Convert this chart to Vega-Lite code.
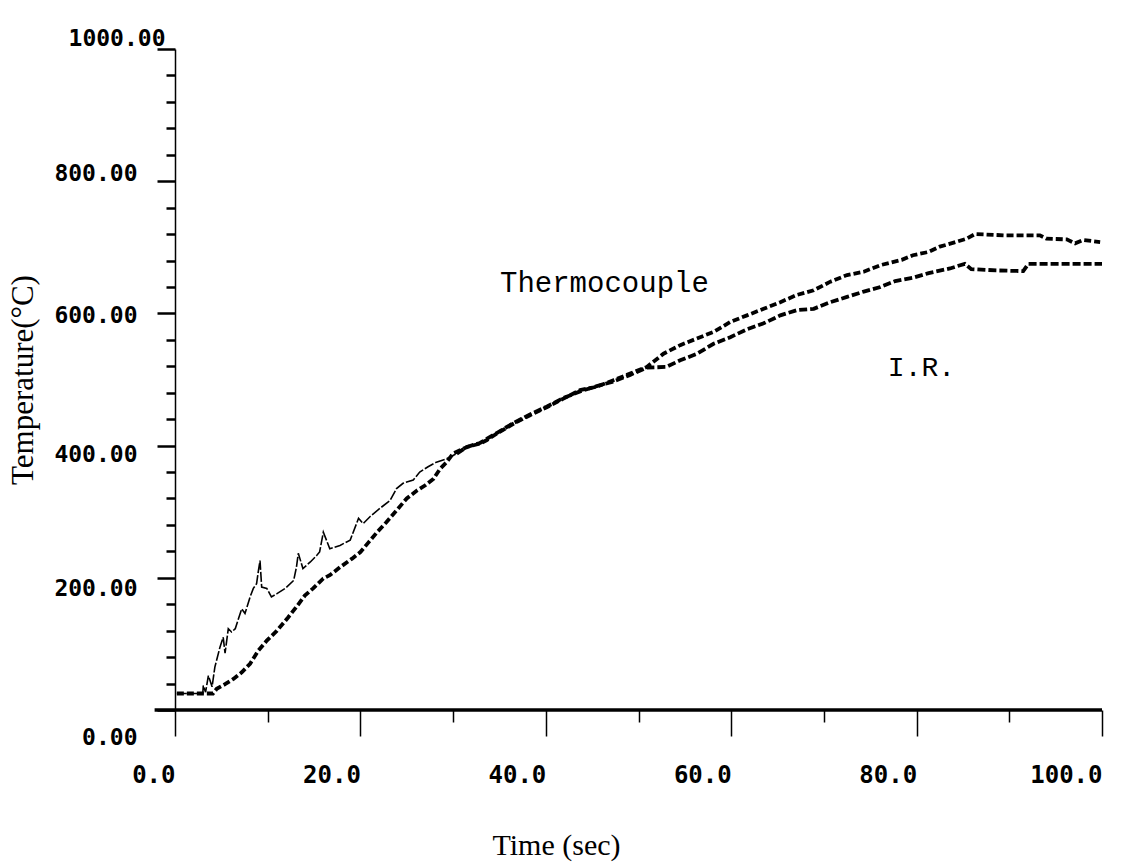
{
  "$schema": "https://vega.github.io/schema/vega-lite/v6.json",
  "width": 927,
  "height": 661,
  "autosize": {"type": "none"},
  "padding": {"left": 175, "top": 49, "right": 30, "bottom": 152},
  "background": "white",
  "config": {"view": {"stroke": null}},
  "datasets": {
    "tc": [
      {"t":0.2,"temp":25},{"t":4.1,"temp":25},{"t":4.5,"temp":32},{"t":5.4,"temp":39},{"t":6.3,"temp":47},{"t":7.2,"temp":57},{"t":8.1,"temp":70},{"t":9.0,"temp":90},{"t":9.9,"temp":105},{"t":11.0,"temp":120},{"t":12.2,"temp":140},{"t":13.1,"temp":156},{"t":14.0,"temp":173},{"t":14.9,"temp":184},{"t":16.0,"temp":199},{"t":16.7,"temp":204},{"t":17.8,"temp":216},{"t":19.1,"temp":229},{"t":20.0,"temp":239},{"t":20.9,"temp":254},{"t":21.8,"temp":269},{"t":22.8,"temp":284},{"t":23.9,"temp":302},{"t":25.0,"temp":320},{"t":26.1,"temp":332},{"t":27.0,"temp":340},{"t":27.9,"temp":350},{"t":28.6,"temp":365},{"t":29.3,"temp":375},{"t":30.0,"temp":388},{"t":31.5,"temp":398},{"t":32.9,"temp":403},{"t":33.6,"temp":408},{"t":34.7,"temp":418},{"t":36.5,"temp":433},{"t":38.3,"temp":446},{"t":40.1,"temp":458},{"t":41.9,"temp":471},{"t":43.7,"temp":484},{"t":45.5,"temp":489},{"t":47.3,"temp":499},{"t":49.1,"temp":509},{"t":50.9,"temp":519},{"t":52.7,"temp":539},{"t":54.5,"temp":552},{"t":56.3,"temp":562},{"t":58.1,"temp":572},{"t":59.9,"temp":587},{"t":61.7,"temp":597},{"t":63.5,"temp":607},{"t":65.3,"temp":617},{"t":67.1,"temp":628},{"t":68.9,"temp":635},{"t":70.7,"temp":648},{"t":72.5,"temp":658},{"t":74.3,"temp":663},{"t":76.1,"temp":673},{"t":78.4,"temp":681},{"t":79.6,"temp":688},{"t":81.3,"temp":693},{"t":82.5,"temp":701},{"t":84.0,"temp":707},{"t":85.4,"temp":713},{"t":86.3,"temp":720},{"t":89.7,"temp":718},{"t":93.3,"temp":718},{"t":94.0,"temp":713},{"t":96.2,"temp":712},{"t":97.1,"temp":706},{"t":98.0,"temp":711},{"t":99.8,"temp":708}
    ],
    "ir": [
      {"t":0.2,"temp":25},{"t":3.0,"temp":25},{"t":3.05,"temp":37},{"t":3.3,"temp":27},{"t":3.6,"temp":52},{"t":4.0,"temp":35},{"t":4.3,"temp":65},{"t":4.85,"temp":95},{"t":5.2,"temp":110},{"t":5.4,"temp":86},{"t":5.75,"temp":123},{"t":6.1,"temp":118},{"t":6.5,"temp":123},{"t":6.8,"temp":136},{"t":7.2,"temp":153},{"t":7.55,"temp":146},{"t":8.1,"temp":171},{"t":8.45,"temp":184},{"t":8.8,"temp":191},{"t":9.0,"temp":211},{"t":9.17,"temp":226},{"t":9.35,"temp":186},{"t":9.9,"temp":184},{"t":10.4,"temp":171},{"t":11.0,"temp":176},{"t":11.9,"temp":184},{"t":12.8,"temp":196},{"t":13.1,"temp":216},{"t":13.3,"temp":237},{"t":13.8,"temp":214},{"t":14.6,"temp":224},{"t":15.3,"temp":234},{"t":15.6,"temp":239},{"t":16.0,"temp":269},{"t":16.7,"temp":244},{"t":17.8,"temp":249},{"t":18.9,"temp":257},{"t":19.8,"temp":290},{"t":20.3,"temp":282},{"t":21.0,"temp":292},{"t":22.1,"temp":305},{"t":23.2,"temp":317},{"t":23.9,"temp":335},{"t":24.6,"temp":343},{"t":25.7,"temp":348},{"t":26.4,"temp":360},{"t":27.3,"temp":368},{"t":28.2,"temp":375},{"t":29.3,"temp":380},{"t":30.4,"temp":388},{"t":31.5,"temp":398},{"t":32.9,"temp":404},{"t":34.7,"temp":419},{"t":36.5,"temp":434},{"t":38.3,"temp":447},{"t":40.1,"temp":459},{"t":41.9,"temp":472},{"t":43.7,"temp":482},{"t":45.5,"temp":490},{"t":47.3,"temp":497},{"t":49.1,"temp":507},{"t":50.9,"temp":518},{"t":53.0,"temp":519},{"t":54.5,"temp":529},{"t":56.3,"temp":539},{"t":58.1,"temp":554},{"t":59.9,"temp":564},{"t":61.7,"temp":576},{"t":63.5,"temp":585},{"t":65.3,"temp":597},{"t":67.1,"temp":605},{"t":68.9,"temp":607},{"t":70.7,"temp":617},{"t":72.5,"temp":625},{"t":74.3,"temp":633},{"t":76.1,"temp":640},{"t":77.7,"temp":649},{"t":79.6,"temp":654},{"t":81.3,"temp":661},{"t":83.6,"temp":668},{"t":85.2,"temp":675},{"t":85.9,"temp":667},{"t":88.6,"temp":665},{"t":91.5,"temp":664},{"t":92.05,"temp":675},{"t":95.8,"temp":675},{"t":100,"temp":675}
    ]
  },
  "resolve": {"axis": {"x": "independent", "y": "independent"}},
  "layer": [
    {
      "data": {"name": "tc"},
      "mark": {"type": "line", "color": "black", "strokeWidth": 3.8, "strokeDash": [7, 3]},
      "encoding": {
        "x": {
          "field": "t", "type": "quantitative",
          "scale": {"domain": [0, 100], "nice": false},
          "axis": {
            "orient": "bottom",
            "values": [0, 20, 40, 60, 80, 100],
            "format": ".1f",
            "domain": false,
            "grid": false,
            "tickSize": 26,
            "tickWidth": 1.5,
            "tickColor": "black",
            "labelAlign": "right",
            "labelBaseline": "top",
            "labelPadding": 27,
            "labelFont": "DejaVu Sans Mono",
            "labelFontWeight": "bold",
            "labelFontSize": 24,
            "labelColor": "black",
            "labelFlush": false,
            "labelOverlap": false,
            "title": "Time (sec)",
            "titleFont": "Liberation Serif",
            "titleFontWeight": "normal",
            "titleFontSize": 30,
            "titleColor": "black",
            "titleAnchor": "start",
            "titleAlign": "center",
            "titleX": 381,
            "titlePadding": 43
          }
        },
        "y": {
          "field": "temp", "type": "quantitative",
          "scale": {"domain": [0, 1000], "nice": false},
          "axis": {
            "orient": "left",
            "values": [0, 200, 400, 600, 800, 1000],
            "format": ".2f",
            "grid": false,
            "domainColor": "black",
            "domainWidth": 1.5,
            "tickSize": 18,
            "tickWidth": 2.5,
            "tickColor": "black",
            "labelBaseline": "middle",
            "labelPadding": {"condition": {"test": "datum.value === 1000", "value": -8}, "value": 20},
            "labelOffset": {"condition": [
              {"test": "datum.value === 1000", "value": -11},
              {"test": "datum.value === 800", "value": -8},
              {"test": "datum.value === 600", "value": 2},
              {"test": "datum.value === 400", "value": 9},
              {"test": "datum.value === 200", "value": 11},
              {"test": "datum.value === 0", "value": 27}
            ], "value": 0},
            "labelFont": "DejaVu Sans Mono",
            "labelFontWeight": "bold",
            "labelFontSize": 23,
            "labelColor": "black",
            "labelFlush": false,
            "labelOverlap": false,
            "title": "Temperature(°C)",
            "titleFont": "Liberation Serif",
            "titleFontWeight": "normal",
            "titleFontSize": 31,
            "titleColor": "black",
            "titlePadding": 14
          }
        }
      }
    },
    {
      "data": {"name": "ir"},
      "transform": [{"filter": "datum.t <= 30.4"}],
      "mark": {"type": "line", "color": "black", "strokeWidth": 1.6, "strokeDash": [10, 2]},
      "encoding": {
        "x": {
          "field": "t", "type": "quantitative",
          "axis": {
            "orient": "bottom",
            "values": [10, 30, 50, 70, 90],
            "labels": false,
            "domain": false,
            "grid": false,
            "tickSize": 12,
            "tickWidth": 1.5,
            "tickColor": "black",
            "title": null
          }
        },
        "y": {
          "field": "temp", "type": "quantitative",
          "axis": {
            "orient": "left",
            "values": [40, 80, 120, 160, 240, 280, 320, 360, 440, 480, 520, 560, 640, 680, 720, 760, 840, 880, 920, 960],
            "labels": false,
            "domain": false,
            "grid": false,
            "tickSize": 9,
            "tickWidth": 2.5,
            "tickColor": "black",
            "title": null
          }
        }
      }
    },
    {
      "data": {"name": "ir"},
      "transform": [{"filter": "datum.t >= 30.4"}],
      "mark": {"type": "line", "color": "black", "strokeWidth": 3.8, "strokeDash": [8, 3]},
      "encoding": {
        "x": {"field": "t", "type": "quantitative", "axis": null},
        "y": {"field": "temp", "type": "quantitative", "axis": null}
      }
    },
    {
      "data": {"values": [{}]},
      "mark": {"type": "rule", "color": "black", "strokeWidth": 3.5},
      "encoding": {
        "x": {"datum": -2.2, "type": "quantitative", "axis": null},
        "x2": {"datum": 100},
        "y": {"datum": 0, "type": "quantitative", "axis": null}
      }
    },
    {
      "data": {"values": [{}]},
      "mark": {"type": "text", "text": "Thermocouple", "font": "Liberation Mono", "fontSize": 29, "align": "left", "baseline": "middle", "color": "black"},
      "encoding": {
        "x": {"datum": 35.06, "type": "quantitative", "axis": null},
        "y": {"datum": 646, "type": "quantitative", "axis": null}
      }
    },
    {
      "data": {"values": [{}]},
      "mark": {"type": "text", "text": "I.R.", "font": "Liberation Mono", "fontSize": 28, "align": "left", "baseline": "middle", "color": "black"},
      "encoding": {
        "x": {"datum": 76.9, "type": "quantitative", "axis": null},
        "y": {"datum": 517, "type": "quantitative", "axis": null}
      }
    }
  ]
}
